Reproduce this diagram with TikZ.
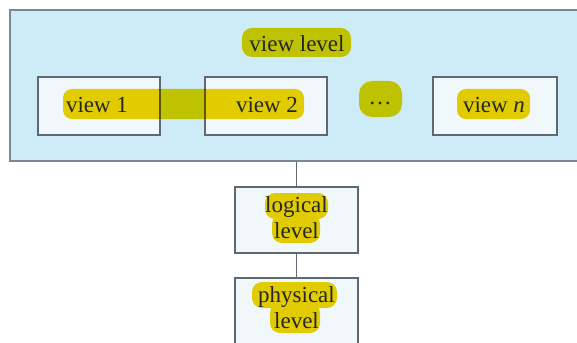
\documentclass[tikz,border=0pt]{standalone}
\usepackage{fontspec}
\setmainfont{Liberation Serif}
\definecolor{outerfill}{RGB}{205,236,248}
\definecolor{boxfill}{RGB}{240,248,252}
\definecolor{edge}{RGB}{95,105,115}
\definecolor{outeredge}{RGB}{125,135,145}
\definecolor{hl}{RGB}{238,210,0}
\tikzset{
  lvbox/.style={draw=edge, line width=1.2pt, fill=boxfill, minimum width=122pt, minimum height=58pt, inner sep=0pt},
  hilite/.style={fill=hl, blend mode=multiply, rounded corners=10pt},
  lbl/.style={font=\fontsize{23}{26}\selectfont, text=black!85, inner sep=0pt, align=center},
  conn/.style={draw=edge, line width=1.2pt},
}
\begin{document}
\begin{tikzpicture}[x=1pt,y=-1pt]
\useasboundingbox (0,0) rectangle (577,342);
% outer view-level area
\node[draw=outeredge, line width=1.2pt, fill=outerfill, minimum width=590pt, minimum height=151pt, inner sep=0pt] (outer) at (305,85.5) {};
% level boxes
\node[lvbox] (v1) at (99,106) {};
\node[lvbox] (v2) at (266,106) {};
\node[lvbox, minimum width=124pt] (vn) at (495,106) {};
\node[lvbox, minimum width=123pt, minimum height=66pt] (logical) at (296.5,220) {};
\node[lvbox, minimum width=123pt, minimum height=66pt] (physical) at (296.5,311) {};
% connectors
\draw[conn] (logical.north |- outer.south) -- (logical.north);
\draw[conn] (logical.south) -- (physical.north);
% highlighter marks
\fill[hilite] (242,28) rectangle (351,57);
\fill[hilite, rounded corners=9pt] (63,89) rectangle (304,119);
\fill[hilite, rounded corners=13pt] (359,81) rectangle (402,117);
\fill[hilite, rounded corners=9pt] (457,89) rectangle (530,119);
\fill[hilite] (265,193) rectangle (328,219) (272,214) rectangle (320,243);
\fill[hilite] (252,282) rectangle (337,308) (270,303) rectangle (320,333);
% labels
\node[lbl] (tview) at (297,44) {view level};
\node[lbl] (t1) at (97,105) {view 1};
\node[lbl] (t2) at (267,105) {view 2};
\node[lbl] (tdots) at (380,103) {\dots};
\node[lbl] (tn) at (494,105) {view \textit{n}};
\node[lbl] (tlog) at (296.5,218) {logical\\level};
\node[lbl] (tphy) at (296.5,308) {physical\\level};
\end{tikzpicture}
\end{document}
